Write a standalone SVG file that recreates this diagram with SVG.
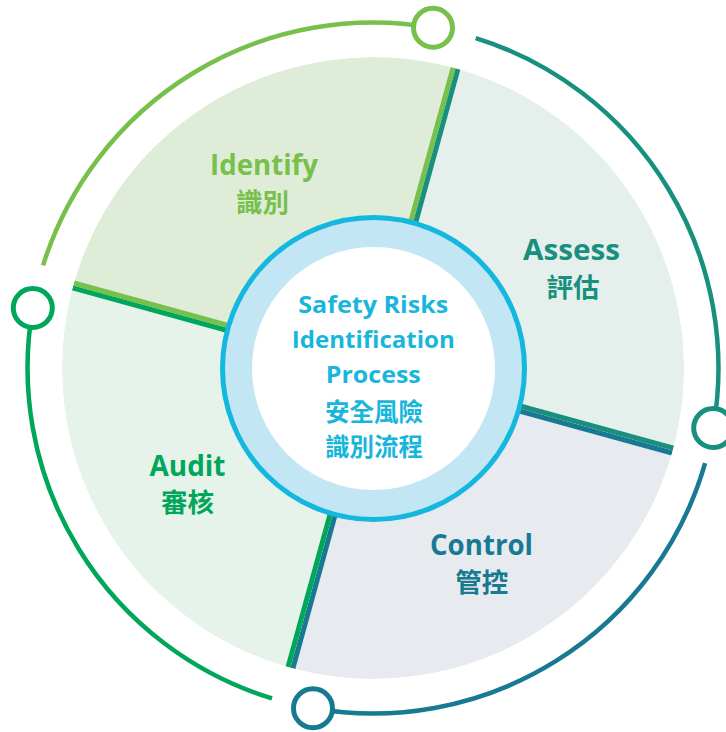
<svg xmlns="http://www.w3.org/2000/svg" width="726" height="732" viewBox="0 0 726 732">
<defs>
<style>
.en{font-family:"Open Sans","Noto Sans",sans-serif;font-weight:700;text-anchor:middle}
.zh{font-family:"Noto Sans CJK TC","Noto Sans CJK SC",sans-serif;font-weight:700;text-anchor:middle}
.arc{fill:none;stroke-width:4.5;stroke-linecap:butt}
.knob{fill:#fff;stroke-width:5}
.edge{fill:none;stroke-width:10}
</style>
<clipPath id="cI"><path d="M373 368 L73.2 285.4 A311 311 0 0 1 455.6 68.2 Z"/></clipPath>
<clipPath id="cA"><path d="M373 368 L455.6 68.2 A311 311 0 0 1 672.8 450.6 Z"/></clipPath>
<clipPath id="cC"><path d="M373 368 L672.8 450.6 A311 311 0 0 1 290.4 667.8 Z"/></clipPath>
<clipPath id="cU"><path d="M373 368 L290.4 667.8 A311 311 0 0 1 73.2 285.4 Z"/></clipPath>
</defs>
<rect width="726" height="732" fill="#fff"/>

<g id="identify">
  <g clip-path="url(#cI)">
    <path d="M373 368 L73.2 285.4 A311 311 0 0 1 455.6 68.2 Z" fill="#DFEDD8"/>
    <path class="edge" d="M73.2 285.4 L373 368 L455.6 68.2" stroke="#77C04B"/>
  </g>
  <text class="en" x="264" y="174.5" font-size="28.5" fill="#77C04B" textLength="108" lengthAdjust="spacingAndGlyphs">Identify</text>
  <text class="zh" x="262.5" y="211.5" font-size="26.5" fill="#77C04B">識別</text>
</g>

<g id="assess">
  <g clip-path="url(#cA)">
    <path d="M373 368 L455.6 68.2 A311 311 0 0 1 672.8 450.6 Z" fill="#E5EFEC"/>
    <path class="edge" d="M455.6 68.2 L373 368 L672.8 450.6" stroke="#17917D"/>
  </g>
  <text class="en" x="571.5" y="259.5" font-size="28.5" fill="#17917D" textLength="97" lengthAdjust="spacingAndGlyphs">Assess</text>
  <text class="zh" x="573" y="296.5" font-size="26.5" fill="#17917D">評估</text>
</g>

<g id="control">
  <g clip-path="url(#cC)">
    <path d="M373 368 L672.8 450.6 A311 311 0 0 1 290.4 667.8 Z" fill="#E7EBEF"/>
    <path class="edge" d="M672.8 450.6 L373 368 L290.4 667.8" stroke="#187A92"/>
  </g>
  <text class="en" x="481.5" y="554.5" font-size="28.5" fill="#187A92" textLength="103" lengthAdjust="spacingAndGlyphs">Control</text>
  <text class="zh" x="481.7" y="591.5" font-size="26.5" fill="#187A92">管控</text>
</g>

<g id="audit">
  <g clip-path="url(#cU)">
    <path d="M373 368 L290.4 667.8 A311 311 0 0 1 73.2 285.4 Z" fill="#E6F3EA"/>
    <path class="edge" d="M290.4 667.8 L373 368 L73.2 285.4" stroke="#00A65A"/>
  </g>
  <text class="en" x="187.5" y="475.5" font-size="28.5" fill="#00A65A" textLength="76" lengthAdjust="spacingAndGlyphs">Audit</text>
  <text class="zh" x="187.5" y="512" font-size="26.5" fill="#00A65A">審核</text>
</g>

<g id="center">
  <circle cx="373.5" cy="368.5" r="151" fill="#C3E6F4" stroke="#14B7DD" stroke-width="5"/>
  <circle cx="373.5" cy="368.5" r="121.5" fill="#fff"/>
  <text class="en" x="373.3" y="313.3" font-size="24" fill="#19B6DC" textLength="150" lengthAdjust="spacingAndGlyphs">Safety Risks</text>
  <text class="en" x="373.3" y="348.3" font-size="24" fill="#19B6DC" textLength="163" lengthAdjust="spacingAndGlyphs">Identification</text>
  <text class="en" x="373.3" y="382.7" font-size="24" fill="#19B6DC" textLength="95" lengthAdjust="spacingAndGlyphs">Process</text>
  <text class="zh" x="374" y="421" font-size="24.5" fill="#19B6DC">安全風險</text>
  <text class="zh" x="374" y="456" font-size="24.5" fill="#19B6DC">識別流程</text>
</g>

<g id="connectors">
  <path class="arc" d="M43.1 265.3 A345.5 345.5 0 0 1 433 27.8" stroke="#77C04B"/>
  <path class="arc" d="M475.7 38.1 A345.5 345.5 0 0 1 713.2 428" stroke="#17917D"/>
  <path class="arc" d="M705.1 463.2 A345.5 345.5 0 0 1 313 708.2" stroke="#187A92"/>
  <path class="arc" d="M272 698.4 A345.5 345.5 0 0 1 32.8 308" stroke="#00A65A"/>
</g>

<g id="knob-top"><circle class="knob" cx="433" cy="27.8" r="19.5" stroke="#77C04B"/></g>
<g id="knob-right"><circle class="knob" cx="713.2" cy="428" r="19.5" stroke="#17917D"/></g>
<g id="knob-bottom"><circle class="knob" cx="313" cy="708.2" r="19.5" stroke="#187A92"/></g>
<g id="knob-left"><circle class="knob" cx="32.8" cy="308" r="19.5" stroke="#00A65A"/></g>
</svg>
